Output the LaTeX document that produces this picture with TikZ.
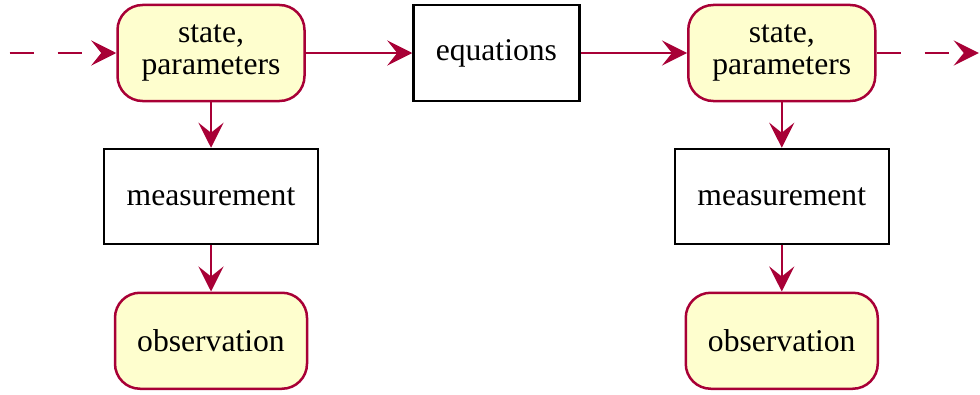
\documentclass[tikz,border=0pt]{standalone}
\usepackage{fontspec}
\setmainfont{Liberation Serif}
\usepackage{xcolor}
\usetikzlibrary{arrows.meta, positioning}
\definecolor{umlred}{HTML}{A80036}
\definecolor{umlfill}{HTML}{FEFECE}

\begin{document}
\begin{tikzpicture}[
  font=\fontsize{18}{18.5}\selectfont,
  data/.style={draw=umlred, fill=umlfill, line width=0.5mm, rounded corners=5mm,
    align=center, inner sep=0pt, minimum height=19.2mm},
  proc/.style={draw=black, fill=white, line width=0.45mm, inner sep=0pt,
    minimum height=19mm},
  edge/.style={-{Stealth[length=5mm, width=5mm, inset=2mm]}, umlred, line width=0.5mm},
  loose/.style={edge, dash pattern=on 4.8mm off 4.8mm}
]
\path[use as bounding box] (0,0) rectangle (19.6,-7.88);

\node[data, minimum width=37.4mm] (s1) at (4.22,-1.06) {state,\\parameters};
\node[proc, minimum width=33.2mm, minimum height=19.2mm, right=21.3mm of s1] (eq) {equations};
\node[data, minimum width=37.4mm, right=21.3mm of eq] (s2) {state,\\parameters};

\node[proc, minimum width=42.8mm, below=9.1mm of s1] (m1) {measurement};
\node[proc, minimum width=42.8mm, below=9.1mm of s2] (m2) {measurement};
\node[data, minimum width=38.4mm, below=9.3mm of m1] (o1) {observation};
\node[data, minimum width=38.4mm, below=9.3mm of m2] (o2) {observation};

\coordinate[left=21.35mm of s1] (in);
\coordinate[right=20.45mm of s2] (out);

\draw[loose] (in) -- (s1);
\draw[edge] (s1) -- (eq);
\draw[edge] (eq) -- (s2);
\draw[loose] (s2) -- (out);
\draw[edge] (s1) -- (m1);
\draw[edge] (m1) -- (o1);
\draw[edge] (s2) -- (m2);
\draw[edge] (m2) -- (o2);
\end{tikzpicture}
\end{document}
